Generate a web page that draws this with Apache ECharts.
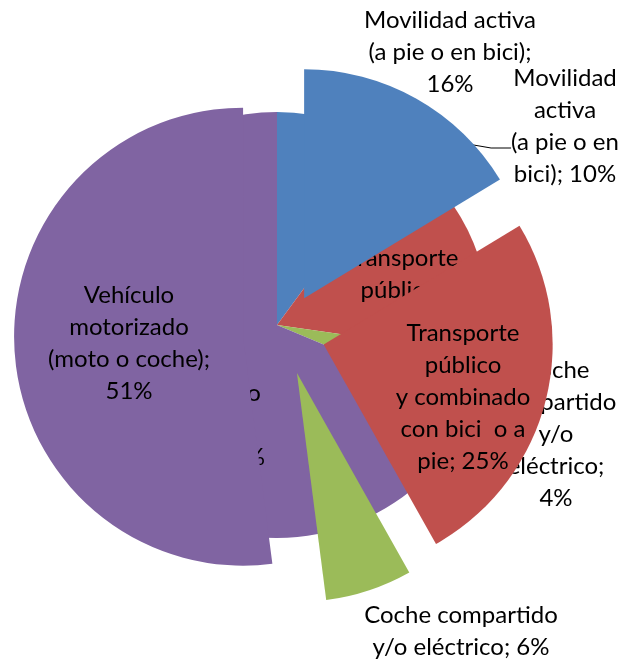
<!DOCTYPE html>
<html>
<head>
<meta charset="utf-8">
<script src="https://cdn.jsdelivr.net/npm/echarts@6/dist/echarts.min.js"></script>
<style>
  html, body { margin: 0; padding: 0; background: #fff; }
  #chart { width: 619px; height: 662px; }
</style>
</head>
<body>
<div id="chart"></div>
<script>
// categorias y valores (dos encuestas superpuestas)
const categories = ['Movilidad activa', 'Transporte público', 'Coche compartido', 'Vehículo motorizado'];
const frontValues = [16, 25, 6, 51];
const backValues = [10, 17, 4, 68];
const frontLabels = [
  'Movilidad activa\n(a pie o en bici);\n16%',
  'Transporte\npúblico\ny combinado\ncon bici  o a\npie; 25%',
  'Coche compartido\ny/o eléctrico; 6%',
  'Vehículo\nmotorizado\n(moto o coche);\n51%'
];
// la linea vacia del final baja el punto donde entra la linea guia
const backLabels = [
  'Movilidad\nactiva\n(a pie o en\nbici); 10%\n{gap| }',
  'Transporte\npúblico;\n17%',
  'Coche\ncompartido\ny/o\neléctrico;\n4%',
  'Vehículo\nmotorizado\n(moto o\ncoche); 68%'
];
const colors = ['#4F81BD', '#C0504D', '#9BBB59', '#8064A2'];

// donde va cada etiqueta
const frontLabelPos = [[450, 52], [463, 397], [461, 631], [129, 343]];
const backLabelPos = [[565, 148], [402, 290], [556, 434], [201, 409]];

const font = { fontFamily: 'Lato', fontSize: 24, lineHeight: 32, color: '#000' };

const chart = echarts.init(document.getElementById('chart'), null, { renderer: 'canvas' });

const backData = backValues.map((v, i) => ({
  name: categories[i],
  value: v,
  itemStyle: { color: colors[i] },
  label: i === 0 ? { position: 'outside' } : {},
  labelLine: { show: i === 0 }
}));
const frontData = frontValues.map((v, i) => ({
  name: categories[i],
  value: v,
  selected: true,
  itemStyle: { color: colors[i] }
}));
// misma tarta sin separar, solo para llevar las etiquetas
const frontLabelData = frontValues.map((v, i) => ({ name: categories[i], value: v }));

const layoutFrom = pos => p => ({
  x: pos[p.dataIndex][0],
  y: pos[p.dataIndex][1],
  align: 'center',
  verticalAlign: 'middle'
});

chart.setOption({
  animation: false,
  series: [
    {
      type: 'pie',
      z: 1,
      center: [277, 325],
      radius: 213,
      startAngle: 90,
      avoidLabelOverlap: false,
      silent: true,
      data: backData,
      label: {
        show: true,
        position: 'inside',
        align: 'center',
        formatter: p => backLabels[p.dataIndex],
        ...font,
        rich: { gap: { fontSize: 10, lineHeight: 44 } }
      },
      labelLine: { show: false, length: 30, length2: 20, lineStyle: { color: '#000', width: 1 } },
      labelLayout: layoutFrom(backLabelPos)
    },
    {
      type: 'pie',
      z: 3,
      center: [284, 334],
      radius: 229,
      startAngle: 90,
      selectedMode: 'multiple',
      selectedOffset: 41,
      avoidLabelOverlap: false,
      silent: true,
      data: frontData,
      label: { show: false },
      labelLine: { show: false }
    },
    {
      type: 'pie',
      z: 4,
      center: [284, 334],
      radius: 229,
      startAngle: 90,
      avoidLabelOverlap: false,
      silent: true,
      itemStyle: { color: 'rgba(0,0,0,0)' },
      data: frontLabelData,
      label: {
        show: true,
        position: 'inside',
        align: 'center',
        formatter: p => frontLabels[p.dataIndex],
        ...font
      },
      labelLine: { show: false },
      labelLayout: layoutFrom(frontLabelPos)
    }
  ]
});
</script>
</body>
</html>
